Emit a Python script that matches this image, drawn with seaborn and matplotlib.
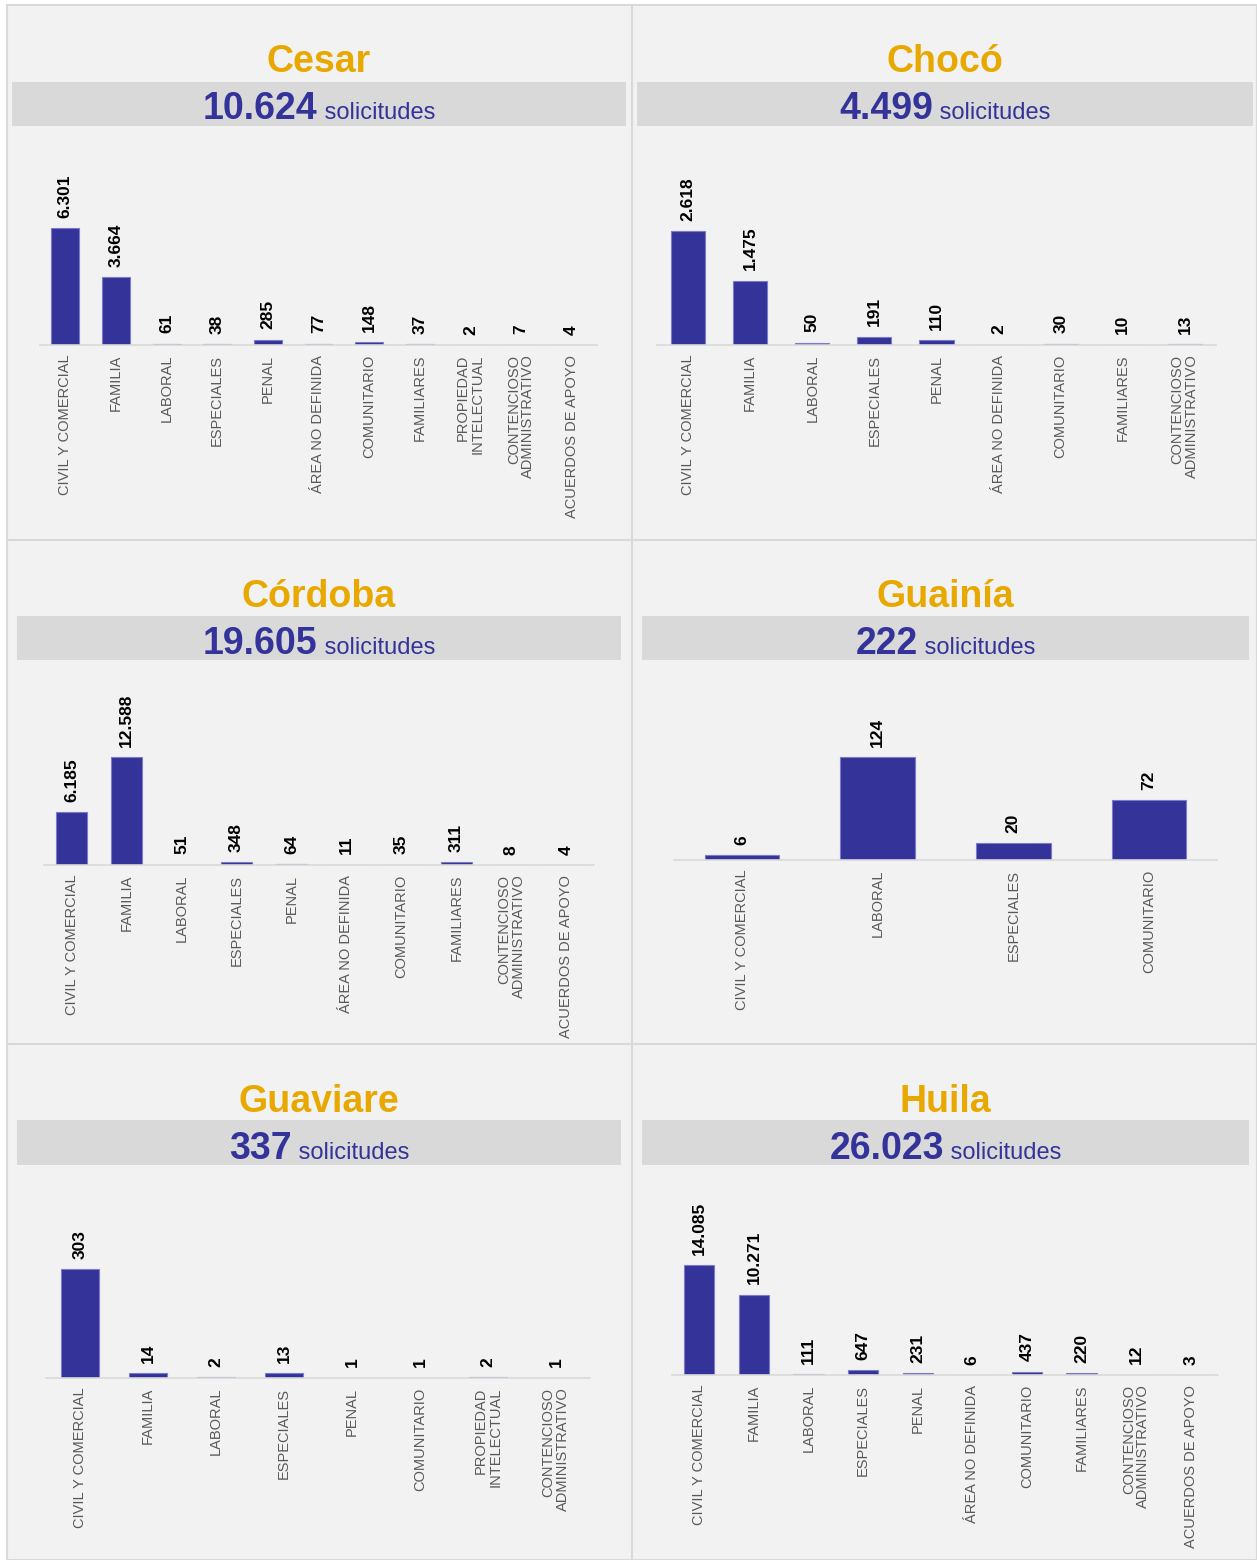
import matplotlib
matplotlib.use("Agg")
import matplotlib.pyplot as plt
from matplotlib.patches import Rectangle
from matplotlib.lines import Line2D
import seaborn as sns

sns.set_style("white")
plt.rcParams["font.family"] = ["Liberation Sans", "DejaVu Sans"]

# ---- data ----
cesar_cats = ["CIVIL Y COMERCIAL", "FAMILIA", "LABORAL", "ESPECIALES", "PENAL",
              "ÁREA NO DEFINIDA", "COMUNITARIO", "FAMILIARES",
              "PROPIEDAD\nINTELECTUAL", "CONTENCIOSO\nADMINISTRATIVO",
              "ACUERDOS DE APOYO"]
cesar_vals = [6301, 3664, 61, 38, 285, 77, 148, 37, 2, 7, 4]

choco_cats = ["CIVIL Y COMERCIAL", "FAMILIA", "LABORAL", "ESPECIALES", "PENAL",
              "ÁREA NO DEFINIDA", "COMUNITARIO", "FAMILIARES",
              "CONTENCIOSO\nADMINISTRATIVO"]
choco_vals = [2618, 1475, 50, 191, 110, 2, 30, 10, 13]

cordoba_cats = ["CIVIL Y COMERCIAL", "FAMILIA", "LABORAL", "ESPECIALES", "PENAL",
                "ÁREA NO DEFINIDA", "COMUNITARIO", "FAMILIARES",
                "CONTENCIOSO\nADMINISTRATIVO", "ACUERDOS DE APOYO"]
cordoba_vals = [6185, 12588, 51, 348, 64, 11, 35, 311, 8, 4]

guainia_cats = ["CIVIL Y COMERCIAL", "LABORAL", "ESPECIALES", "COMUNITARIO"]
guainia_vals = [6, 124, 20, 72]

guaviare_cats = ["CIVIL Y COMERCIAL", "FAMILIA", "LABORAL", "ESPECIALES", "PENAL",
                 "COMUNITARIO", "PROPIEDAD\nINTELECTUAL",
                 "CONTENCIOSO\nADMINISTRATIVO"]
guaviare_vals = [303, 14, 2, 13, 1, 1, 2, 1]

huila_cats = ["CIVIL Y COMERCIAL", "FAMILIA", "LABORAL", "ESPECIALES", "PENAL",
              "ÁREA NO DEFINIDA", "COMUNITARIO", "FAMILIARES",
              "CONTENCIOSO\nADMINISTRATIVO", "ACUERDOS DE APOYO"]
huila_vals = [14085, 10271, 111, 647, 231, 6, 437, 220, 12, 3]

titles = ["Cesar", "Chocó", "Córdoba", "Guainía", "Guaviare", "Huila"]
totals = [10624, 4499, 19605, 222, 337, 26023]

NAVY = "#333399"
GOLD = "#E8A800"
BAND = "#d9d9d9"
BG = "#f2f2f2"

W, H = 1257, 1560


def fx(px):
    return px / W


def fy(py):
    return 1 - py / H


def fmt(v):
    return f"{v:,}".replace(",", ".")


# layout (pixels): axis left, axis right, baseline, tallest bar height, band
layout = [
    (40, 597, 345, 117, (12, 626, 82, 126)),
    (657, 1216, 345, 114, (637, 1253, 82, 126)),
    (44, 594, 865, 108, (17, 621, 616, 660)),
    (674, 1217, 860, 103, (642, 1249, 616, 660)),
    (46, 590, 1378, 109, (17, 621, 1120, 1165)),
    (672, 1218, 1375, 110, (642, 1249, 1120, 1165)),
]
title_base = [72, 72, 607, 607, 1112, 1112]
sub_base = [119, 119, 654, 654, 1159, 1159]

all_cats = [cesar_cats, choco_cats, cordoba_cats, guainia_cats, guaviare_cats, huila_cats]
all_vals = [cesar_vals, choco_vals, cordoba_vals, guainia_vals, guaviare_vals, huila_vals]

fig = plt.figure(figsize=(W / 100, H / 100), dpi=100, facecolor="white")

# panel background and dividers (drawn below the axes)
fig.patches.append(Rectangle((fx(7), 0), 1 - fx(7), fy(5), transform=fig.transFigure,
                             facecolor=BG, edgecolor=BAND, linewidth=1.5, zorder=-3))
fig.lines.append(Line2D([fx(632), fx(632)], [0, fy(5)], transform=fig.transFigure,
                        color=BAND, linewidth=1.5, zorder=-2))
for yy in [540, 1044]:
    fig.lines.append(Line2D([fx(7), 1], [fy(yy), fy(yy)], transform=fig.transFigure,
                            color=BAND, linewidth=1.5, zorder=-2))

texts = []
for i in range(6):
    left, right, base, bar_px, band = layout[i]
    b0, b1, b2, b3 = band
    fig.patches.append(Rectangle((fx(b0), fy(b3)), fx(b1) - fx(b0), fy(b2) - fy(b3),
                                 transform=fig.transFigure, facecolor=BAND,
                                 edgecolor="none", zorder=-2))
    cx = fx((b0 + b1) / 2)
    fig.text(cx, fy(title_base[i]), titles[i], ha="center", va="baseline",
             fontsize=27, fontweight="heavy", color=GOLD)
    t1 = fig.text(cx, fy(sub_base[i]), fmt(totals[i]), ha="left", va="baseline",
                  fontsize=27, fontweight="bold", color=NAVY)
    t2 = fig.text(cx, fy(sub_base[i]), " solicitudes", ha="left", va="baseline",
                  fontsize=17, color=NAVY)
    texts.append((cx, t1, t2))

    cats = all_cats[i]
    vals = all_vals[i]
    ax_h = 150
    ax = fig.add_axes([fx(left), fy(base), fx(right) - fx(left), ax_h / H])
    ax.set_facecolor("none")
    sns.barplot(x=cats, y=vals, ax=ax, color=NAVY, saturation=1, width=0.55,
                edgecolor="#7b7bc9", linewidth=0.8)
    ax.set_xlim(-0.5, len(cats) - 0.5)
    ax.set_ylim(0, max(vals) * ax_h / bar_px)
    ax.bar_label(ax.containers[0], labels=[fmt(v) for v in vals], rotation=90,
                 padding=7.5, fontsize=12.5, fontweight="bold", color="black")
    ax.set_xticks(range(len(cats)))
    ax.set_xticklabels(cats, rotation=90, fontsize=10.5, color="#595959",
                       linespacing=1.05)
    for lab in ax.get_xticklabels():
        lab.set_multialignment("right")
    ax.tick_params(axis="x", length=0, pad=7)
    ax.set_yticks([])
    ax.set_xlabel("")
    ax.set_ylabel("")
    for s in ["top", "left", "right"]:
        ax.spines[s].set_visible(False)
    ax.spines["bottom"].set_color(BAND)
    ax.spines["bottom"].set_linewidth(1.2)

# center the two-part subtitles
fig.canvas.draw()
r = fig.canvas.get_renderer()
for cx, t1, t2 in texts:
    w1 = t1.get_window_extent(r).width / W
    w2 = t2.get_window_extent(r).width / W
    start = cx - (w1 + w2) / 2
    y = t1.get_position()[1]
    t1.set_position((start, y))
    t2.set_position((start + w1, y))

fig.savefig("out.png", dpi=100)
